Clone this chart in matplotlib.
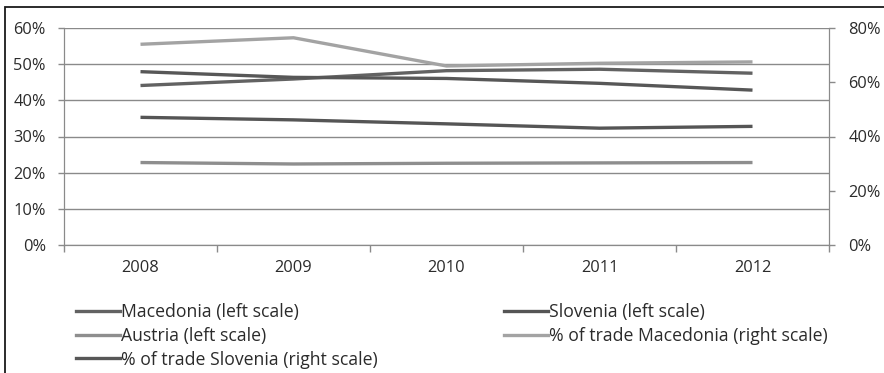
import matplotlib
matplotlib.use("Agg")
import matplotlib.pyplot as plt
from matplotlib.lines import Line2D
from matplotlib.patches import Rectangle
from matplotlib.ticker import FuncFormatter, MultipleLocator, FixedLocator

plt.rcParams['font.family'] = ['Open Sans', 'DejaVu Sans']

years = ["2008", "2009", "2010", "2011", "2012"]

# left scale (%)
macedonia = [44.1, 45.9, 48.2, 48.6, 47.5]
slovenia = [35.3, 34.6, 33.5, 32.3, 32.8]
austria = [22.8, 22.4, 22.6, 22.7, 22.8]
# right scale (%)
trade_macedonia = [74.0, 76.4, 66.0, 67.0, 67.5]
trade_slovenia = [63.9, 61.8, 61.4, 59.6, 57.1]

W, H = 884, 373
fig = plt.figure(figsize=(W / 100, H / 100), dpi=100)
ax = fig.add_axes([64 / W, 1 - 245 / H, (829 - 64) / W, (245 - 28) / H])
ax2 = ax.twinx()

text_c = "#2b2b2b"
grid_c = "#8a8a8a"
lw = 2.4
fs = 11.8

x = list(range(len(years)))
ax.plot(x, macedonia, color="#626262", lw=lw, solid_capstyle="butt", zorder=3)
ax.plot(x, slovenia, color="#555555", lw=lw, solid_capstyle="butt", zorder=3)
ax.plot(x, austria, color="#8e8e8e", lw=lw, solid_capstyle="butt", zorder=3)
ax2.plot(x, trade_macedonia, color="#a3a3a3", lw=lw, solid_capstyle="butt", zorder=3)
ax2.plot(x, trade_slovenia, color="#575757", lw=lw, solid_capstyle="butt", zorder=3)

ax.set_xlim(-0.5, len(years) - 0.5)
ax.set_ylim(0, 60)
ax2.set_ylim(0, 80)

pct = FuncFormatter(lambda v, p: f"{v:.0f}%")
ax.yaxis.set_major_locator(MultipleLocator(10))
ax.yaxis.set_major_formatter(pct)
ax2.yaxis.set_major_locator(MultipleLocator(20))
ax2.yaxis.set_major_formatter(pct)

ax.set_xticks(x)
ax.set_xticklabels(years)
ax.xaxis.set_minor_locator(FixedLocator([i - 0.5 for i in range(len(years) + 1)]))
ax.tick_params(axis="x", which="major", length=0, pad=11, labelsize=fs, labelcolor=text_c)
ax.tick_params(axis="x", which="minor", length=5, width=1, color=grid_c, direction="out")
ax.tick_params(axis="y", length=4, width=1, color=grid_c, pad=9, labelsize=fs, labelcolor=text_c)
ax2.tick_params(axis="y", length=4, width=1, color=grid_c, pad=10, labelsize=fs, labelcolor=text_c)

ax.grid(axis="y", color=grid_c, lw=1)
ax.set_axisbelow(True)
for a in (ax, ax2):
    a.spines["top"].set_visible(False)
    a.spines["left"].set_color(grid_c)
    a.spines["right"].set_color(grid_c)
    a.spines["bottom"].set_color(grid_c)
    a.patch.set_visible(False)

# legend in two columns
def handle(c):
    return Line2D([], [], color=c, lw=lw)

leg_kw = dict(frameon=False, fontsize=12.7, handlelength=2.5, handletextpad=0.03,
              labelspacing=0.33, borderaxespad=0, borderpad=0, labelcolor=text_c,
              loc="upper left")
leg1 = fig.legend([handle("#626262"), handle("#8e8e8e"), handle("#575757")],
                  ["Macedonia (left scale)", "Austria (left scale)",
                   "% of trade Slovenia (right scale)"],
                  bbox_to_anchor=(76 / W, 1 - 303 / H), **leg_kw)
leg2 = fig.legend([handle("#555555"), handle("#a3a3a3")],
                  ["Slovenia (left scale)", "% of trade Macedonia (right scale)"],
                  bbox_to_anchor=(504 / W, 1 - 303 / H), **leg_kw)

# outer chart frame
fig.patches.append(Rectangle((5 / W, -0.1), 1.2, (H - 7) / H + 0.1,
                             transform=fig.transFigure, fill=False,
                             edgecolor="#1a1a1a", lw=1.3))

fig.savefig("out.png", dpi=100)
